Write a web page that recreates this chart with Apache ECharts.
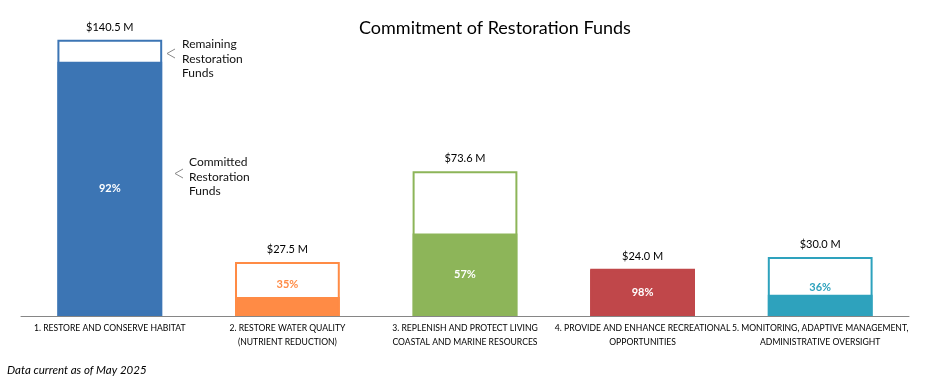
<!DOCTYPE html>
<html>
<head>
<meta charset="utf-8">
<script src="https://cdn.jsdelivr.net/npm/echarts@6/dist/echarts.min.js"></script>
<style>
html,body{margin:0;padding:0;background:#fff;}
#chart{width:929px;height:382px;}
</style>
</head>
<body>
<div id="chart"></div>
<script>
const categories = [
  '1. RESTORE AND CONSERVE HABITAT',
  '2. RESTORE WATER QUALITY\n(NUTRIENT REDUCTION)',
  '3. REPLENISH AND PROTECT LIVING\nCOASTAL AND MARINE RESOURCES',
  '4. PROVIDE AND ENHANCE RECREATIONAL\nOPPORTUNITIES',
  '5. MONITORING, ADAPTIVE MANAGEMENT,\nADMINISTRATIVE OVERSIGHT'
];
const totalFunds = [140.5, 27.5, 73.6, 24.0, 30.0];
const committedFunds = [129.3, 9.6, 42.0, 23.5, 10.8];
const committedPct = ['92%', '35%', '57%', '98%', '36%'];
const colors = ['#3C75B4', '#FF8B45', '#8DB559', '#C0474A', '#2EA2BD'];

const FONT = 'Lato, "Noto Sans", sans-serif';
const BODY = 'Lato, "Open Sans", sans-serif';

const chart = echarts.init(document.getElementById('chart'), null, {renderer: 'canvas'});

const pctInsideWhite = [true, false, true, true, false];
const pctDistance = [0, 7, 0, 0, 2];

const totalData = totalFunds.map((v, i) => ({
  value: v,
  itemStyle: {color: '#ffffff', borderColor: colors[i], borderWidth: 2}
}));
const committedData = committedFunds.map((v, i) => ({
  value: v,
  itemStyle: {color: colors[i], borderColor: colors[i], borderWidth: 2},
  label: pctInsideWhite[i]
    ? {show: true, position: 'inside', color: '#ffffff', formatter: committedPct[i]}
    : {show: true, position: 'top', distance: pctDistance[i], color: colors[i], formatter: committedPct[i]}
}));

chart.setOption({
  animation: false,
  title: {
    text: 'Commitment of Restoration Funds',
    left: 359,
    top: 19,
    padding: 0,
    textStyle: {fontFamily: BODY, fontSize: 18, fontWeight: 'normal', color: '#000'}
  },
  grid: {left: 21, right: 20, top: 21, bottom: 66, containLabel: false},
  xAxis: {
    type: 'category',
    data: categories,
    axisLine: {lineStyle: {color: '#868686', width: 1}},
    axisTick: {show: false},
    axisLabel: {
      interval: 0,
      margin: 5,
      fontFamily: FONT,
      fontSize: 8.6,
      lineHeight: 14,
      color: '#000'
    }
  },
  yAxis: {
    type: 'value',
    min: 0,
    max: 150,
    show: false
  },
  series: [
    {
      name: 'Total',
      type: 'bar',
      data: totalData,
      barWidth: '59%',
      barGap: '-100%',
      label: {
        show: true,
        position: 'top',
        distance: 7,
        fontFamily: BODY,
        fontSize: 11,
        color: '#000',
        formatter: p => '$' + p.value.toFixed(1) + ' M'
      },
      z: 2
    },
    {
      name: 'Committed',
      type: 'bar',
      data: committedData,
      barWidth: '59%',
      barGap: '-100%',
      label: {
        fontFamily: BODY,
        fontSize: 11,
        fontWeight: 'bold'
      },
      z: 3
    }
  ],
  graphic: [
    {type: 'polyline', shape: {points: [[175, 49], [167, 53.5], [175, 58]]}, style: {stroke: '#8a8a8a', lineWidth: 1, fill: null}},
    {type: 'text', left: 182, top: 37, style: {text: 'Remaining\nRestoration\nFunds', font: '12px ' + BODY, lineHeight: 14.5, fill: '#111'}},
    {type: 'polyline', shape: {points: [[183, 169], [175, 173.5], [183, 178]]}, style: {stroke: '#8a8a8a', lineWidth: 1, fill: null}},
    {type: 'text', left: 189, top: 155, style: {text: 'Committed\nRestoration\nFunds', font: '12px ' + BODY, lineHeight: 14.5, fill: '#111'}},
    {type: 'text', left: 7, top: 364, style: {text: 'Data current as of May 2025', font: 'italic 11.5px ' + BODY, fill: '#000'}}
  ]
});
</script>
</body>
</html>
